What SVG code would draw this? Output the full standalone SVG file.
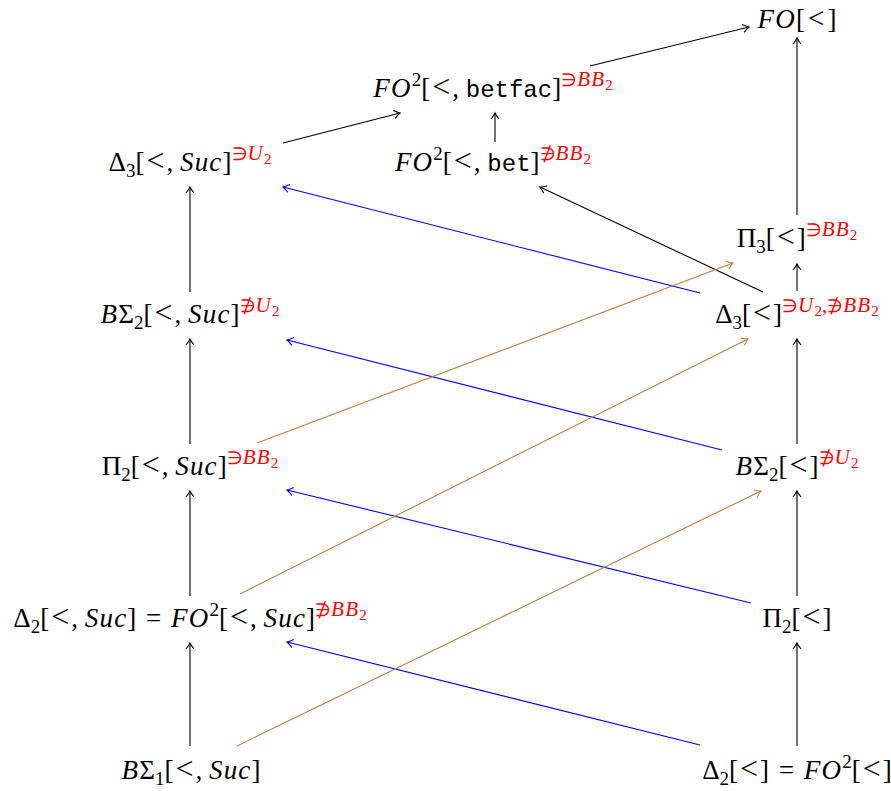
<svg xmlns="http://www.w3.org/2000/svg" width="891" height="791" viewBox="0 0 891 791">
<style>
text{font-family:"Liberation Serif",serif;font-size:27px;fill:#000;text-anchor:middle}
.i{font-style:italic;letter-spacing:1.2px}
.lt{font-size:32px}
.s{font-size:19px;letter-spacing:0}
.sr{font-size:21px;fill:#f00}
.ss{font-size:15px;fill:#f00;letter-spacing:0}
.sym{font-size:18px}
.tt{font-family:"Liberation Mono",monospace;font-size:24px}
.k{stroke:#000;stroke-width:1.1;fill:none;marker-end:url(#ak)}
.b{stroke:#00f;stroke-width:1.1;fill:none;marker-end:url(#ab)}
.o{stroke:#bf8040;stroke-width:1.1;fill:none;marker-end:url(#ao)}
</style>
<defs>
<marker id="ak" markerUnits="userSpaceOnUse" markerWidth="12" markerHeight="12" refX="0" refY="0" viewBox="-8 -6 10 12" orient="auto"><path d="M-6,-4 Q-2,-0.8 0,0 Q-2,0.8 -6,4" fill="none" stroke="#000" stroke-width="1.1"/></marker>
<marker id="ab" markerUnits="userSpaceOnUse" markerWidth="12" markerHeight="12" refX="0" refY="0" viewBox="-8 -6 10 12" orient="auto"><path d="M-6,-4 Q-2,-0.8 0,0 Q-2,0.8 -6,4" fill="none" stroke="#00f" stroke-width="1.1"/></marker>
<marker id="ao" markerUnits="userSpaceOnUse" markerWidth="12" markerHeight="12" refX="0" refY="0" viewBox="-8 -6 10 12" orient="auto"><path d="M-6,-4 Q-2,-0.8 0,0 Q-2,0.8 -6,4" fill="none" stroke="#bf8040" stroke-width="1.1"/></marker>
</defs>
<g id="connectors">
<line class="k" x1="190" y1="746" x2="190" y2="643"/>
<line class="k" x1="190" y1="596" x2="190" y2="491"/>
<line class="k" x1="190" y1="444" x2="190" y2="339"/>
<line class="k" x1="190" y1="292" x2="190" y2="187"/>
<line class="k" x1="797" y1="746" x2="797" y2="643"/>
<line class="k" x1="797" y1="596" x2="797" y2="491"/>
<line class="k" x1="797" y1="444" x2="797" y2="339"/>
<line class="k" x1="797" y1="291" x2="797" y2="264"/>
<line class="k" x1="797" y1="215" x2="797" y2="38"/>
<line class="k" x1="283" y1="143" x2="400" y2="113"/>
<line class="k" x1="590" y1="66" x2="749" y2="27"/>
<line class="k" x1="495" y1="142" x2="495" y2="113"/>
<line class="k" x1="763" y1="292" x2="540" y2="187"/>
<line class="b" x1="700" y1="293" x2="283" y2="187"/>
<line class="b" x1="722" y1="450" x2="287" y2="340"/>
<line class="b" x1="751" y1="603" x2="287" y2="490"/>
<line class="b" x1="700" y1="745" x2="287" y2="642"/>
<line class="o" x1="257" y1="443" x2="733" y2="263"/>
<line class="o" x1="240" y1="594" x2="748" y2="339"/>
<line class="o" x1="237" y1="746" x2="761" y2="491"/>
</g>
<g id="fo"><text x="797" y="28"><tspan class="i">FO</tspan>[<tspan dx="3" font-size="29">&lt;</tspan><tspan dx="3">]</tspan></text></g>
<g id="fo2betfac"><text x="493" y="97"><tspan class="i">FO</tspan><tspan class="s" dy="-11">2</tspan><tspan dy="11">[</tspan><tspan class="lt" dx="2">&lt;</tspan><tspan dx="2">, </tspan><tspan class="tt">betfac</tspan><tspan>]</tspan><tspan class="sr" dy="-11"><tspan class="sym">∋</tspan><tspan class="i">BB</tspan></tspan><tspan class="ss" dy="4">2</tspan></text></g>
<g id="delta3suc"><text x="190" y="171">Δ<tspan class="s" dy="6">3</tspan><tspan dy="-6">[</tspan><tspan class="lt" dx="2">&lt;</tspan><tspan dx="2">, </tspan><tspan class="i">Suc</tspan><tspan>]</tspan><tspan class="sr" dy="-11"><tspan class="sym">∋</tspan><tspan class="i">U</tspan></tspan><tspan class="ss" dy="4">2</tspan></text></g>
<g id="fo2bet"><text x="493" y="171"><tspan class="i">FO</tspan><tspan class="s" dy="-11">2</tspan><tspan dy="11">[</tspan><tspan class="lt" dx="2">&lt;</tspan><tspan dx="2">, </tspan><tspan class="tt">bet</tspan><tspan>]</tspan><tspan class="sr" dy="-11"><tspan class="sym">∌</tspan><tspan class="i">BB</tspan></tspan><tspan class="ss" dy="4">2</tspan></text></g>
<g id="pi3"><text x="797" y="247">Π<tspan class="s" dy="6">3</tspan><tspan dy="-6">[</tspan><tspan class="lt" dx="2">&lt;</tspan><tspan dx="2">]</tspan><tspan class="sr" dy="-11"><tspan class="sym">∋</tspan><tspan class="i">BB</tspan></tspan><tspan class="ss" dy="4">2</tspan></text></g>
<g id="delta3"><text x="797" y="323">Δ<tspan class="s" dy="6">3</tspan><tspan dy="-6">[</tspan><tspan class="lt" dx="2">&lt;</tspan><tspan dx="2">]</tspan><tspan class="sr" dy="-11"><tspan class="sym">∋</tspan><tspan class="i">U</tspan></tspan><tspan class="ss" dy="4">2</tspan><tspan class="sr" dy="-4">,<tspan class="sym">∌</tspan><tspan class="i">BB</tspan></tspan><tspan class="ss" dy="4">2</tspan></text></g>
<g id="bsigma2suc"><text x="190" y="323"><tspan class="i">B</tspan>Σ<tspan class="s" dy="6">2</tspan><tspan dy="-6">[</tspan><tspan class="lt" dx="2">&lt;</tspan><tspan dx="2">, </tspan><tspan class="i">Suc</tspan><tspan>]</tspan><tspan class="sr" dy="-11"><tspan class="sym">∌</tspan><tspan class="i">U</tspan></tspan><tspan class="ss" dy="4">2</tspan></text></g>
<g id="pi2suc"><text x="190" y="475">Π<tspan class="s" dy="6">2</tspan><tspan dy="-6">[</tspan><tspan class="lt" dx="2">&lt;</tspan><tspan dx="2">, </tspan><tspan class="i">Suc</tspan><tspan>]</tspan><tspan class="sr" dy="-11"><tspan class="sym">∋</tspan><tspan class="i">BB</tspan></tspan><tspan class="ss" dy="4">2</tspan></text></g>
<g id="bsigma2"><text x="797" y="475"><tspan class="i">B</tspan>Σ<tspan class="s" dy="6">2</tspan><tspan dy="-6">[</tspan><tspan class="lt" dx="2">&lt;</tspan><tspan dx="2">]</tspan><tspan class="sr" dy="-11"><tspan class="sym">∌</tspan><tspan class="i">U</tspan></tspan><tspan class="ss" dy="4">2</tspan></text></g>
<g id="delta2suc"><text x="190" y="627">Δ<tspan class="s" dy="6">2</tspan><tspan dy="-6">[</tspan><tspan class="lt" dx="2">&lt;</tspan><tspan dx="2">, </tspan><tspan class="i">Suc</tspan><tspan>] </tspan><tspan dx="3">=</tspan><tspan dx="3"> </tspan><tspan class="i">FO</tspan><tspan class="s" dy="-11">2</tspan><tspan dy="11">[</tspan><tspan class="lt" dx="2">&lt;</tspan><tspan dx="2">, </tspan><tspan class="i">Suc</tspan><tspan>]</tspan><tspan class="sr" dy="-11"><tspan class="sym">∌</tspan><tspan class="i">BB</tspan></tspan><tspan class="ss" dy="4">2</tspan></text></g>
<g id="pi2"><text x="797" y="627">Π<tspan class="s" dy="6">2</tspan><tspan dy="-6">[</tspan><tspan class="lt" dx="2">&lt;</tspan><tspan dx="2">]</tspan></text></g>
<g id="bsigma1suc"><text x="191" y="779"><tspan class="i">B</tspan>Σ<tspan class="s" dy="6">1</tspan><tspan dy="-6">[</tspan><tspan class="lt" dx="2">&lt;</tspan><tspan dx="2">, </tspan><tspan class="i">Suc</tspan><tspan>]</tspan></text></g>
<g id="delta2"><text x="797" y="779">Δ<tspan class="s" dy="6">2</tspan><tspan dy="-6">[</tspan><tspan class="lt" dx="2">&lt;</tspan><tspan dx="2">] </tspan><tspan dx="3">=</tspan><tspan dx="3"> </tspan><tspan class="i">FO</tspan><tspan class="s" dy="-11">2</tspan><tspan dy="11">[</tspan><tspan class="lt" dx="2">&lt;</tspan><tspan dx="2">]</tspan></text></g>
</svg>
